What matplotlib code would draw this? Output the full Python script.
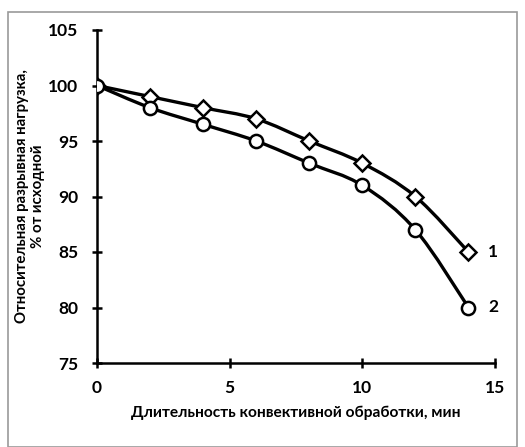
import matplotlib
matplotlib.use("Agg")
import matplotlib.pyplot as plt
from matplotlib.path import Path
from matplotlib.patches import PathPatch, Rectangle
import numpy as np

plt.rcParams['font.family'] = ['Lato', 'DejaVu Sans']

time_min = [0, 2, 4, 6, 8, 10, 12, 14]
series1 = [100, 99, 98, 97, 95, 93, 90, 85]
series2 = [100, 98, 96.5, 95, 93, 91, 87, 80]
series_labels = ['1', '2']
xticks = [0, 5, 10, 15]
yticks = [75, 80, 85, 90, 95, 100, 105]


def smooth_path(x, y, t=1/6):
    # Catmull-Rom style cubic Bezier through the data points (like Excel smoothing)
    x = np.asarray(x, float); y = np.asarray(y, float)
    verts = [(x[0], y[0])]
    codes = [Path.MOVETO]
    n = len(x)
    for i in range(n - 1):
        p0 = (x[i - 1], y[i - 1]) if i > 0 else (x[i], y[i])
        p1 = (x[i], y[i]); p2 = (x[i + 1], y[i + 1])
        p3 = (x[i + 2], y[i + 2]) if i + 2 < n else p2
        c1 = (p1[0] + (p2[0] - p0[0]) * t, p1[1] + (p2[1] - p0[1]) * t)
        c2 = (p2[0] - (p3[0] - p1[0]) * t, p2[1] - (p3[1] - p1[1]) * t)
        verts += [c1, c2, p2]
        codes += [Path.CURVE4] * 3
    return Path(verts, codes)


fig = plt.figure(figsize=(5.25, 4.47), dpi=100)
fig.patches.append(Rectangle((8/525, 0), (517-8)/525, 1 - 12/447, transform=fig.transFigure,
                             fill=False, edgecolor='#9a9a9a', linewidth=1.2))
ax = fig.add_axes([97/525, 1 - 363/447, (495-97)/525, (363-30)/447])

for ys, mk, ms in [(series1, 'D', 8.5), (series2, 'o', 9.5)]:
    ax.add_patch(PathPatch(smooth_path(time_min, ys), fill=False, edgecolor='black',
                           linewidth=2.4, zorder=2))
    ax.plot(time_min, ys, linestyle='none', marker=mk, markersize=ms,
            markerfacecolor='white', markeredgecolor='black', markeredgewidth=1.8, zorder=3)

ax.text(14.75, series1[-1], series_labels[0], fontsize=12.5, fontweight='bold', va='center', ha='left')
ax.text(14.75, series2[-1], series_labels[1], fontsize=12.5, fontweight='bold', va='center', ha='left')

ax.set_xlim(0, 15)
ax.set_ylim(75, 105)
ax.set_xticks(xticks)
ax.set_yticks(yticks)
for s in ['top', 'right']:
    ax.spines[s].set_visible(False)
for s in ['left', 'bottom']:
    ax.spines[s].set_linewidth(1.8)
ax.tick_params(direction='inout', length=7, width=1.8, labelsize=12.5)
ax.tick_params(axis='y', pad=10)
ax.tick_params(axis='x', pad=9)
for lab in ax.get_xticklabels() + ax.get_yticklabels():
    lab.set_fontweight('bold')

ax.set_xlabel('Длительность конвективной обработки, мин', fontsize=11.2, fontweight='bold', labelpad=7)
fig.text(30/525, 1 - 196/447, 'Относительная разрывная нагрузка,\n% от исходной', fontsize=10.8,
         fontweight='bold', rotation=90, ha='center', va='center', multialignment='center',
         linespacing=1.15)
ax.patch.set_alpha(0)

fig.savefig('out.png', dpi=100)
